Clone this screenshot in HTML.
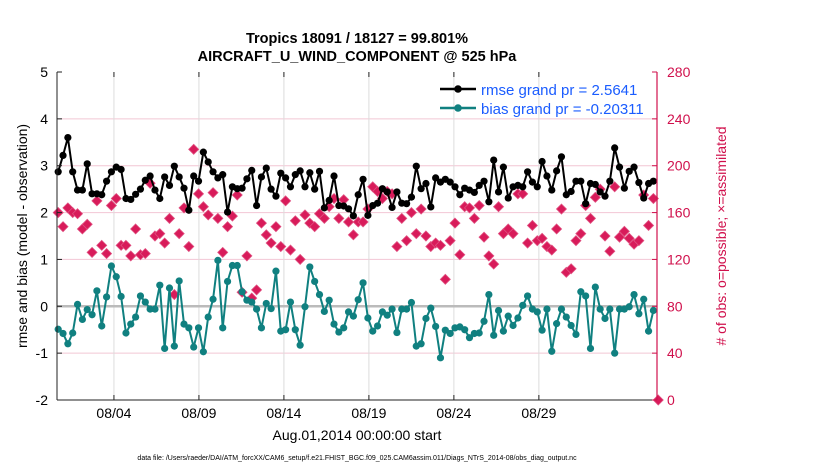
<!DOCTYPE html>
<html><head><meta charset="utf-8">
<style>
body{margin:0;background:#fff;}
svg text{font-family:"Liberation Sans",Arial,sans-serif;}
</style></head>
<body>
<svg id="chart" width="830" height="470" viewBox="0 0 830 470" xmlns="http://www.w3.org/2000/svg">
<text x="357" y="43" text-anchor="middle" font-size="14.5" font-weight="bold">Tropics 18091 / 18127 = 99.801%</text>
<text x="357" y="61" text-anchor="middle" font-size="14.5" font-weight="bold">AIRCRAFT_U_WIND_COMPONENT @ 525 hPa</text>
<g id="grid"></g>
<g id="marks"></g>
<g id="axes"></g>
<text transform="translate(27,236) rotate(-90)" text-anchor="middle" font-size="14">rmse and bias (model - observation)</text>
<text transform="translate(726,236) rotate(-90)" text-anchor="middle" font-size="14" fill="#d0104c"># of obs: o=possible; ×=assimilated</text>
<text x="357" y="440" text-anchor="middle" font-size="14">Aug.01,2014 00:00:00 start</text>
<text x="357" y="460" text-anchor="middle" font-size="7">data file: /Users/raeder/DAI/ATM_forcXX/CAM6_setup/f.e21.FHIST_BGC.f09_025.CAM6assim.011/Diags_NTrS_2014-08/obs_diag_output.nc</text>
<g>
<line x1="440" y1="89" x2="476" y2="89" stroke="#000" stroke-width="2.5"/>
<circle cx="458" cy="89" r="3.8" fill="#000"/>
<text x="481" y="95" font-size="15" fill="#1a5cff">rmse grand pr = 2.5641</text>
<line x1="440" y1="108" x2="476" y2="108" stroke="#108080" stroke-width="2.5"/>
<circle cx="458" cy="108" r="3.8" fill="#108080"/>
<text x="481" y="114" font-size="15" fill="#1a5cff">bias grand pr = -0.20311</text>
</g>
</svg>
<script>
const rmse=[2.87,3.22,3.6,2.87,2.48,2.48,3.04,2.4,2.4,2.38,2.67,2.87,2.97,2.92,2.3,2.28,2.39,2.5,2.69,2.78,2.48,2.3,2.76,2.58,2.99,2.76,2.52,2.05,2.78,2.67,3.29,3.08,
2.87,2.74,2.81,2.01,2.55,2.51,2.52,2.72,2.9,2.15,2.76,2.95,2.5,2.35,2.84,2.74,2.55,2.81,2.89,2.55,2.85,2.5,2.88,2.1,2.26,2.78,2.15,2.14,2.08,1.93,2.38,
2.71,1.94,2.15,2.2,2.51,2.44,2.11,2.44,2.2,2.19,2.33,2.99,2.51,2.62,2.12,2.74,2.65,2.71,2.65,2.55,2.38,2.52,2.48,2.43,2.58,2.67,2.23,3.12,2.44,2.97,2.31,
2.55,2.58,2.55,2.87,2.65,2.55,3.09,2.78,2.48,2.89,3.19,2.38,2.45,2.67,2.67,2.19,2.62,2.6,2.44,2.35,2.67,3.38,2.97,2.52,2.88,2.97,2.64,2.31,2.62,2.67];
const bias=[-0.49,-0.58,-0.8,-0.57,0.04,-0.28,-0.07,-0.18,0.33,-0.42,0.2,0.86,0.63,0.21,-0.57,-0.38,-0.23,0.22,0.09,-0.06,-0.06,0.45,-0.9,0.39,-0.85,0.54,-0.38,-0.46,-0.87,-0.46,-0.97,-0.23,
0.15,0.98,-0.46,0.53,0.87,0.87,0.31,0.13,0.09,-0.06,-0.46,0.06,-0.05,0.75,-0.53,-0.5,0.09,-0.5,-0.83,-0.01,0.84,0.53,0.25,-0.11,0.13,-0.38,-0.55,-0.46,-0.12,-0.21,0.14,
0.5,-0.25,-0.53,-0.42,-0.12,-0.19,-0.06,-0.56,-0.06,-0.06,0.08,-0.85,-0.8,-0.26,-0.04,-0.43,-1.1,-0.51,-0.58,-0.46,-0.44,-0.5,-0.67,-0.58,-0.57,-0.32,0.25,-0.62,-0.09,-0.53,-0.21,
-0.41,-0.25,0.02,0.22,-0.06,-0.12,-0.51,-0.06,-0.96,-0.37,-0.06,-0.23,-0.41,-0.6,0.31,0.22,-0.9,0.41,-0.06,-0.26,-0.06,-1.0,-0.06,-0.06,-0.01,0.25,-0.16,0.15,-0.53,-0.09];
const nobs=[160,148,164,160,159,146,150,126,170,132,125,166,172,132,132,123,146,124,125,185,140,142,134,155,90,142,164,131,214,176,165,158,
177,155,126,148,157,175,92,123,87,94,151,141,134,148,131,170,128,153,120,158,151,148,159,155,165,172,155,171,152,141,152,
152,163,182,178,172,178,176,131,155,136,160,142,163,140,131,134,132,103,136,151,124,165,164,155,166,139,123,116,165,142,146,
142,176,176,134,149,136,138,131,128,146,163,109,112,136,142,166,155,173,180,140,127,182,139,144,138,133,136,175,149,172,0];
const xTickDays=[4,9,14,19,24,29];
const xTickLabels=["08/04","08/09","08/14","08/19","08/24","08/29"];
const yLeftTicks=[-2,-1,0,1,2,3,4,5];
const yRightTicks=[0,40,80,120,160,200,240,280];
const t0=0.72, dt=0.2847;

const NS="http://www.w3.org/2000/svg";
const L=57,R=657,T=72,B=400;
const xS=d=>L+(d-0.65)/(35.95-0.65)*(R-L);
const yS=v=>B-(v+2)/7*(B-T);
const yR=c=>B-c/280*(B-T);
function mk(tag,attrs,parent){const e=document.createElementNS(NS,tag);for(const k in attrs)e.setAttribute(k,attrs[k]);parent.appendChild(e);return e;}
const grid=document.getElementById('grid'),marks=document.getElementById('marks'),axes=document.getElementById('axes');

yLeftTicks.forEach(v=>{
  if(v>-2&&v<5&&v!==0){const g=mk('line',{x1:L,x2:R,y1:yS(v),y2:yS(v),stroke:'#f2c6d4','stroke-width':1},grid);
  
  }
});
xTickDays.forEach((d,i)=>{
  const g=mk('line',{x1:xS(d),x2:xS(d),y1:T,y2:B,stroke:'#dcdcdc','stroke-width':1},grid);
  
  
});
const z=mk('line',{x1:L,x2:R,y1:yS(0),y2:yS(0),stroke:'#bbbbbb','stroke-width':2.5},grid);



nobs.forEach((c,i)=>{
  const x=xS(t0+i*dt),y=yR(c);
  const p=mk('path',{d:`M${x} ${y-5}L${x+5} ${y}L${x} ${y+5}L${x-5} ${y}Z`,fill:'#d81b5a',stroke:'#e05080','stroke-width':0.8},marks);
  
  
});
function series(vals,color,name){
  const pts=vals.map((v,i)=>xS(t0+i*dt)+','+yS(v)).join(' ');
  const pl=mk('polyline',{points:pts,fill:'none',stroke:color,'stroke-width':2,'stroke-linejoin':'round'},marks);
  
  
  vals.forEach((v,i)=>{
    const c=mk('circle',{cx:xS(t0+i*dt),cy:yS(v),r:3.6,fill:color},marks);
    
    
  });
}
series(bias,'#108080','bias');
series(rmse,'#000000','rmse');

const la=mk('line',{x1:L,x2:L,y1:T,y2:B,stroke:'#222','stroke-width':1},axes);


const ba=mk('line',{x1:L,x2:R,y1:B,y2:B,stroke:'#222','stroke-width':1},axes);


const ra=mk('line',{x1:R,x2:R,y1:T,y2:B,stroke:'#d0104c','stroke-width':1.2},axes);


yLeftTicks.forEach(v=>{
  mk('line',{x1:L,x2:L+5,y1:yS(v),y2:yS(v),stroke:'#222'},axes);
  const t=mk('text',{x:L-9,y:yS(v)+5,'text-anchor':'end','font-size':14},axes);
  t.textContent=v;
  
  
});
yRightTicks.forEach(c=>{
  mk('line',{x1:R-5,x2:R,y1:yR(c),y2:yR(c),stroke:'#d0104c'},axes);
  const t=mk('text',{x:R+10,y:yR(c)+5,'font-size':14,fill:'#d0104c'},axes);
  t.textContent=c;
  
  
});
xTickDays.forEach((d,i)=>{
  mk('line',{x1:xS(d),x2:xS(d),y1:B-5,y2:B,stroke:'#222'},axes);
  mk('line',{x1:xS(d),x2:xS(d),y1:T,y2:T+5,stroke:'#222'},axes);
  const t=mk('text',{x:xS(d),y:B+18,'text-anchor':'middle','font-size':14},axes);
  t.textContent=xTickLabels[i];
  
  
});
</script>
</body></html>
